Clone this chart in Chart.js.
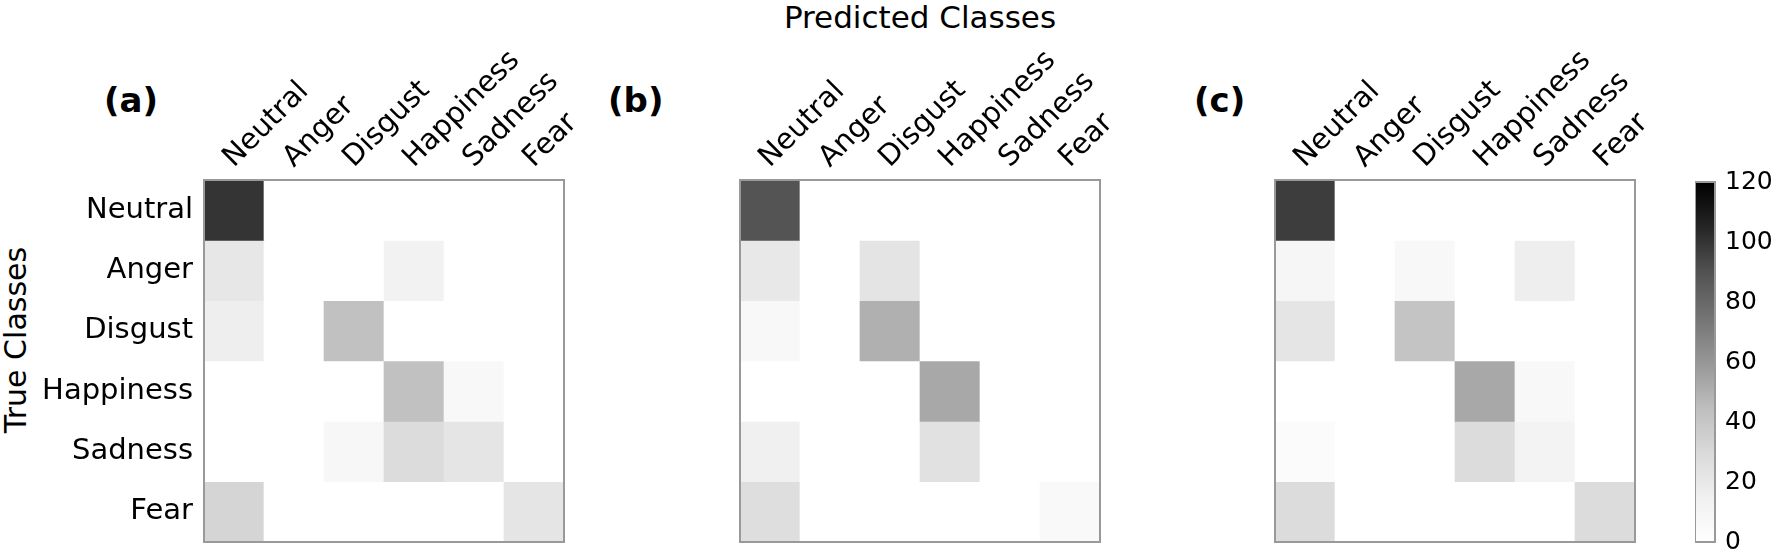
<!DOCTYPE html>
<html>
<head>
<meta charset="utf-8">
<script src="https://cdn.jsdelivr.net/npm/chart.js@4.4.0/dist/chart.umd.min.js"></script>
<style>
  html, body { margin: 0; padding: 0; background: #fff; }
  #wrap { position: relative; width: 1776px; height: 557px; overflow: hidden; font-family: "DejaVu Sans", sans-serif; color: #000; }
  canvas { position: absolute; top: 0; }
  .lbl { position: absolute; white-space: nowrap; line-height: 1; }
  .panel { font-weight: bold; font-size: 34px; top: 83px; }
</style>
</head>
<body>
<div id="wrap">
  <div class="lbl" style="left:720px; width:400px; top:2px; text-align:center; font-size:31px;">Predicted Classes</div>
  <div class="lbl panel" style="left:104px;">(a)</div>
  <div class="lbl panel" style="left:608px;">(b)</div>
  <div class="lbl panel" style="left:1194px;">(c)</div>
  <div class="lbl" style="left:16px; top:340px; font-size:30px; transform:translate(-50%,-50%) rotate(-90deg);">True Classes</div>
  <canvas id="cmA" width="624" height="571" style="left:0px"></canvas>
  <canvas id="cmB" width="480" height="571" style="left:680px"></canvas>
  <canvas id="cmC" width="480" height="571" style="left:1215px"></canvas>
  <canvas id="cbar" width="81" height="567" style="left:1695px"></canvas>
</div>
<script>
// class names (predicted = columns, true = rows)
const COLS = ["Neutral", "Anger", "Disgust", "Happiness", "Sadness", "Fear"];
const ROWS = ["Neutral", "Anger", "Disgust", "Happiness", "Sadness", "Fear"];

// confusion counts, one row per true class
const valuesA = [
  [100, 0, 0, 0, 0, 0],
  [21, 0, 0, 13, 0, 0],
  [16, 0, 43, 0, 0, 0],
  [0, 0, 0, 43, 7, 0],
  [0, 0, 8, 28, 22, 0],
  [32, 0, 0, 0, 0, 22],
];
const valuesB = [
  [89, 0, 0, 0, 0, 0],
  [20, 0, 23, 0, 0, 0],
  [7, 0, 50, 0, 0, 0],
  [0, 0, 0, 53, 0, 0],
  [15, 0, 0, 25, 0, 0],
  [27, 0, 0, 0, 0, 6],
];
const valuesC = [
  [97, 0, 0, 0, 0, 0],
  [9, 0, 7, 0, 16, 0],
  [22, 0, 41, 0, 0, 0],
  [0, 0, 0, 53, 7, 0],
  [4, 0, 0, 28, 12, 0],
  [28, 0, 0, 0, 0, 28],
];

const CBAR_TICKS = [0, 20, 40, 60, 80, 100, 120];
const VMAX = 120;

// matplotlib "Greys" colormap stops (fraction, grey level)
const GREYS = [[0, 255], [0.125, 240], [0.25, 217], [0.375, 189], [0.5, 150], [0.625, 115], [0.75, 82], [0.875, 37], [1, 0]];

function greyFor(v) {
  const t = Math.min(Math.max(v / VMAX, 0), 1);
  for (let i = 1; i < GREYS.length; i++) {
    if (t <= GREYS[i][0]) {
      const [t0, g0] = GREYS[i - 1], [t1, g1] = GREYS[i];
      const g = Math.round(g0 + (g1 - g0) * (t - t0) / (t1 - t0));
      return `rgb(${g},${g},${g})`;
    }
  }
  return "rgb(0,0,0)";
}

const TICK_FONT = { family: "DejaVu Sans", size: 29 };

// grey frame round the plot area
const frame = {
  id: "frame",
  afterDatasetsDraw(chart) {
    const { ctx, chartArea: a } = chart;
    ctx.save();
    ctx.strokeStyle = "#999";
    ctx.lineWidth = 2;
    ctx.strokeRect(a.left, a.top, a.right - a.left, a.bottom - a.top);
    ctx.restore();
  }
};

function renderMatrix(canvasId, values, showRows) {
  const ctx = document.getElementById(canvasId);
  return new Chart(ctx, {
    type: "bar",
    data: {
      labels: COLS,
      datasets: ROWS.map((r, i) => ({
        label: r,
        data: COLS.map(() => [i, i + 1]),
        backgroundColor: values[i].map(greyFor),
        borderWidth: 0,
        barPercentage: 1,
        categoryPercentage: 1,
        grouped: false,
      }))
    },
    options: {
      responsive: false,
      animation: false,
      // canvas runs 14px below the page so the plot bottom lands at 542
      layout: { padding: { top: 0, bottom: 29, left: 0, right: 60 } },
      plugins: { legend: { display: false }, tooltip: { enabled: false } },
      scales: {
        x: {
          position: "top",
          grid: { display: false, drawTicks: false },
          border: { display: false },
          ticks: { autoSkip: false, minRotation: 45, maxRotation: 45, padding: 5, labelOffset: 19, color: "#000", font: TICK_FONT },
          afterFit: s => { s.height = 180; }
        },
        y: {
          min: 0, max: 6, reverse: true,
          grid: { display: false, drawTicks: false },
          border: { display: false },
          afterBuildTicks: s => { s.ticks = ROWS.map((_, i) => ({ value: i + 0.5 })); },
          ticks: { display: showRows, padding: 11, color: "#000", font: TICK_FONT, callback: (v, i) => ROWS[i] },
          afterFit: s => { s.width = showRows ? 204 : 60; }
        }
      }
    },
    plugins: [frame]
  });
}

function renderColorbar(canvasId) {
  const ctx = document.getElementById(canvasId);
  return new Chart(ctx, {
    type: "bar",
    data: {
      labels: [""],
      datasets: [{
        data: [[0, VMAX]],
        backgroundColor: c => {
          const a = c.chart.chartArea;
          if (!a) return "#888";
          const g = c.chart.ctx.createLinearGradient(0, a.bottom, 0, a.top);
          GREYS.forEach(([t, v]) => g.addColorStop(t, `rgb(${v},${v},${v})`));
          return g;
        },
        borderWidth: 0,
        barPercentage: 1,
        categoryPercentage: 1,
      }]
    },
    options: {
      responsive: false,
      animation: false,
      layout: { padding: { top: 182, bottom: 25, left: 0, right: 0 } },
      plugins: { legend: { display: false }, tooltip: { enabled: false } },
      scales: {
        x: { display: false },
        y: {
          position: "right",
          min: 0, max: VMAX,
          grid: { display: false, drawTicks: false },
          border: { display: false },
          afterBuildTicks: s => { s.ticks = CBAR_TICKS.map(v => ({ value: v })); },
          ticks: { padding: 10, color: "#000", font: { family: "DejaVu Sans", size: 25 } },
          afterFit: s => { s.width = 61; }
        }
      }
    },
    plugins: [frame]
  });
}

renderMatrix("cmA", valuesA, true);
renderMatrix("cmB", valuesB, false);
renderMatrix("cmC", valuesC, false);
renderColorbar("cbar");
</script>
</body>
</html>
